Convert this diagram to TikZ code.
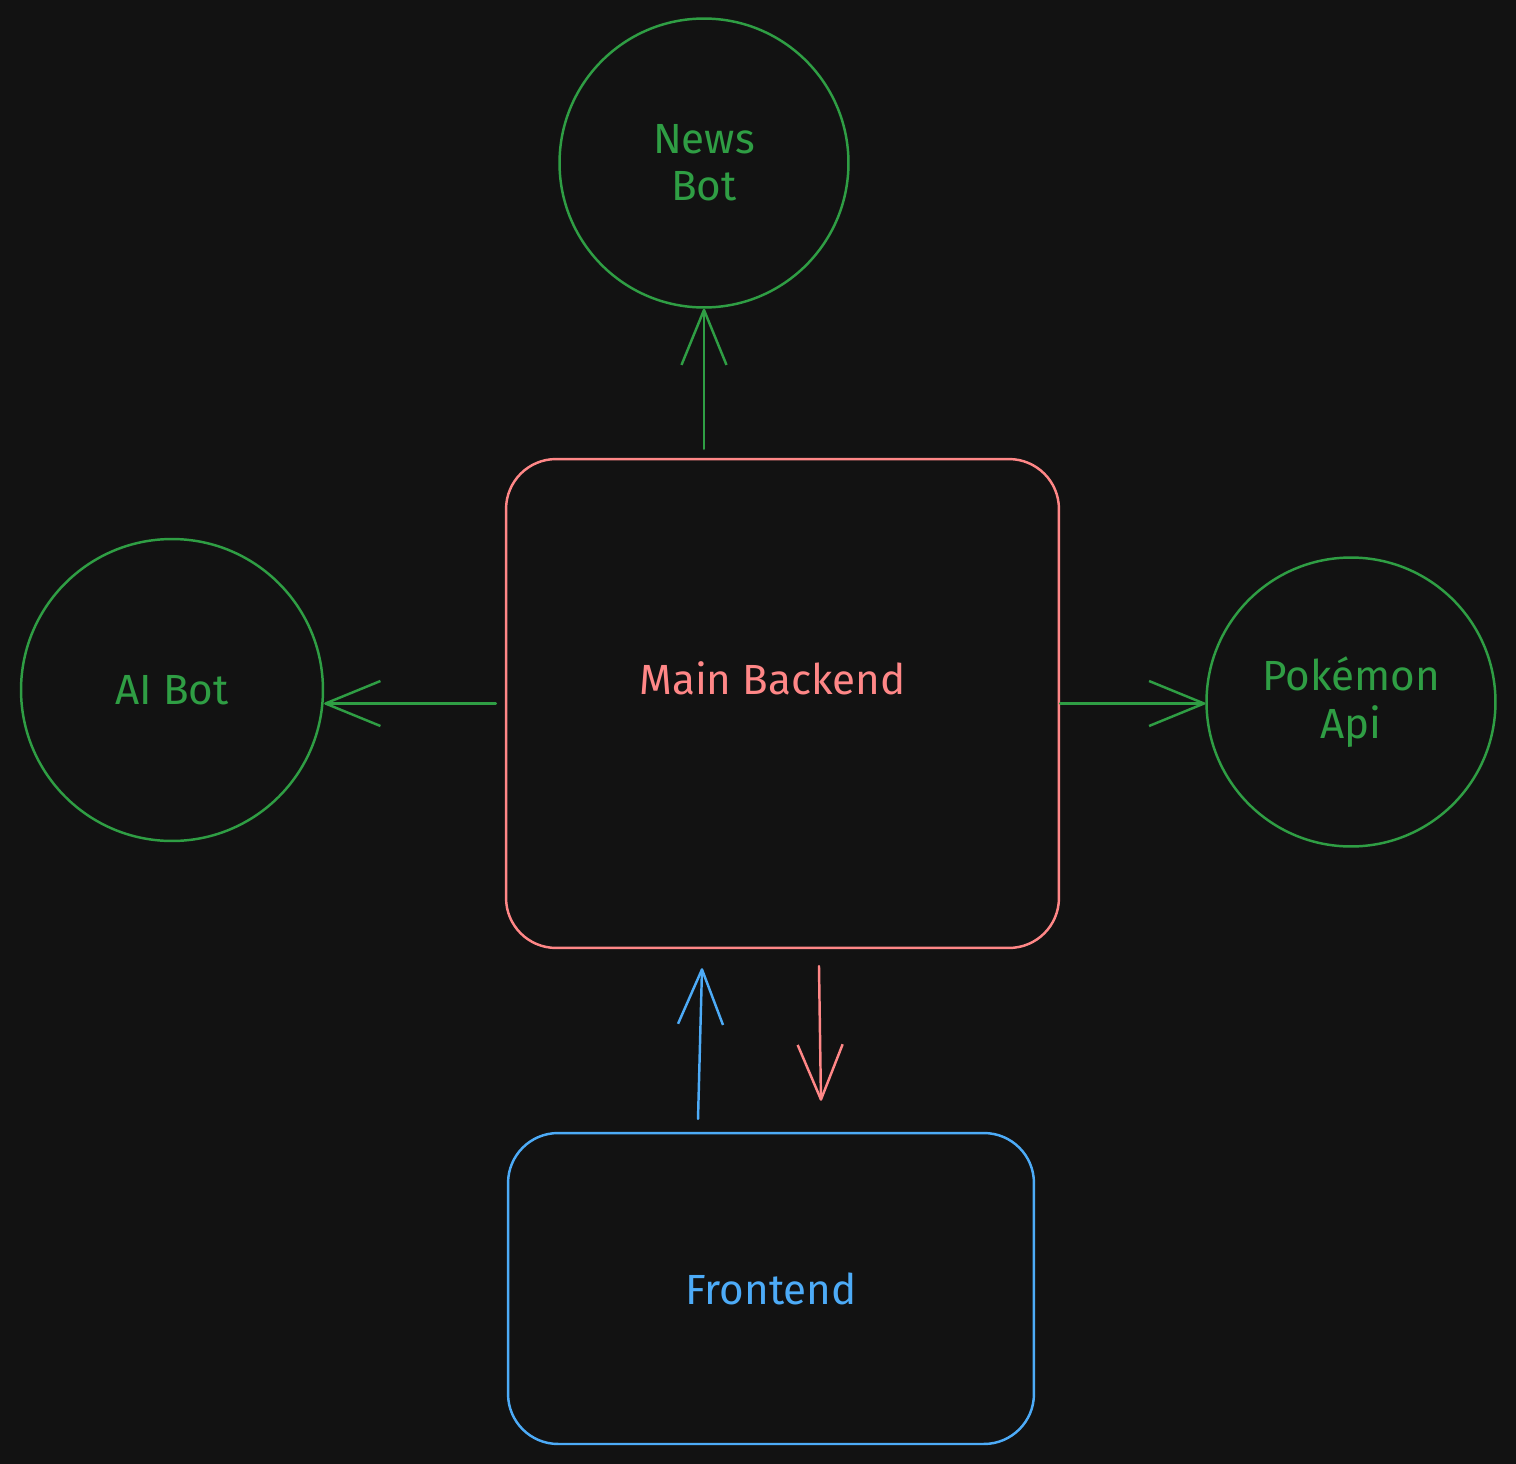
\documentclass[tikz,border=0pt]{standalone}
\usepackage{fontspec}
\setmainfont{Fira Sans}
\usetikzlibrary{arrows.meta}

\definecolor{bgdark}{HTML}{121212}
\definecolor{botgreen}{HTML}{2F9E44}
\definecolor{backred}{HTML}{FF8787}
\definecolor{frontblue}{HTML}{4DABF7}

\begin{document}
\begin{tikzpicture}[x=0.02cm,y=-0.02cm,
        every node/.style={font=\fontsize{24}{27}\selectfont},
        bot/.style={circle,draw=botgreen,text=botgreen,line width=1.4pt,inner sep=0pt,align=center},
        box/.style={rounded corners=1cm,draw,line width=1.4pt,inner sep=0pt},
        link/.style={line width=1.4pt,line cap=round,line join=round,
            -{Straight Barb[length=1.1cm,width=0.9cm,line join=round]}}]
        \fill[bgdark] (0,0) rectangle (1516,1464);
        % boxes
        \node[box,draw=backred,minimum width=11.06cm,minimum height=9.78cm,
            label={[text=backred,xshift=-0.2cm,yshift=0.51cm]center:Main Backend}] (backend) at (782.5,703.5) {};
        \node[box,draw=frontblue,text=frontblue,minimum width=10.52cm,minimum height=6.22cm] (frontend) at (771,1288.5) {Frontend};
        % bots
        \node[bot,minimum size=5.78cm] (newsbot) at (704,163) {News\\Bot};
        \node[bot,minimum size=6.04cm] (aibot) at (172,690) {AI Bot};
        \node[bot,minimum size=5.78cm] (pokemon) at (1351,702) {Pokémon\\Api};
        % links
        \draw[link,botgreen,shorten <=0.18cm] (backend.north -| newsbot.south) -- (newsbot.south);
        \draw[link,botgreen,shorten <=0.18cm] (backend.west) -- (aibot.east |- backend.west);
        \draw[link,botgreen] (backend.east) -- (pokemon.west |- backend.east);
        \draw[link,frontblue] ([xshift=-1.46cm,yshift=0.26cm]frontend.north) -- ([xshift=-1.61cm,yshift=-0.38cm]backend.south);
        \draw[link,backred] ([xshift=0.73cm,yshift=-0.34cm]backend.south) -- ([xshift=1cm,yshift=0.62cm]frontend.north);
\end{tikzpicture}
\end{document}
